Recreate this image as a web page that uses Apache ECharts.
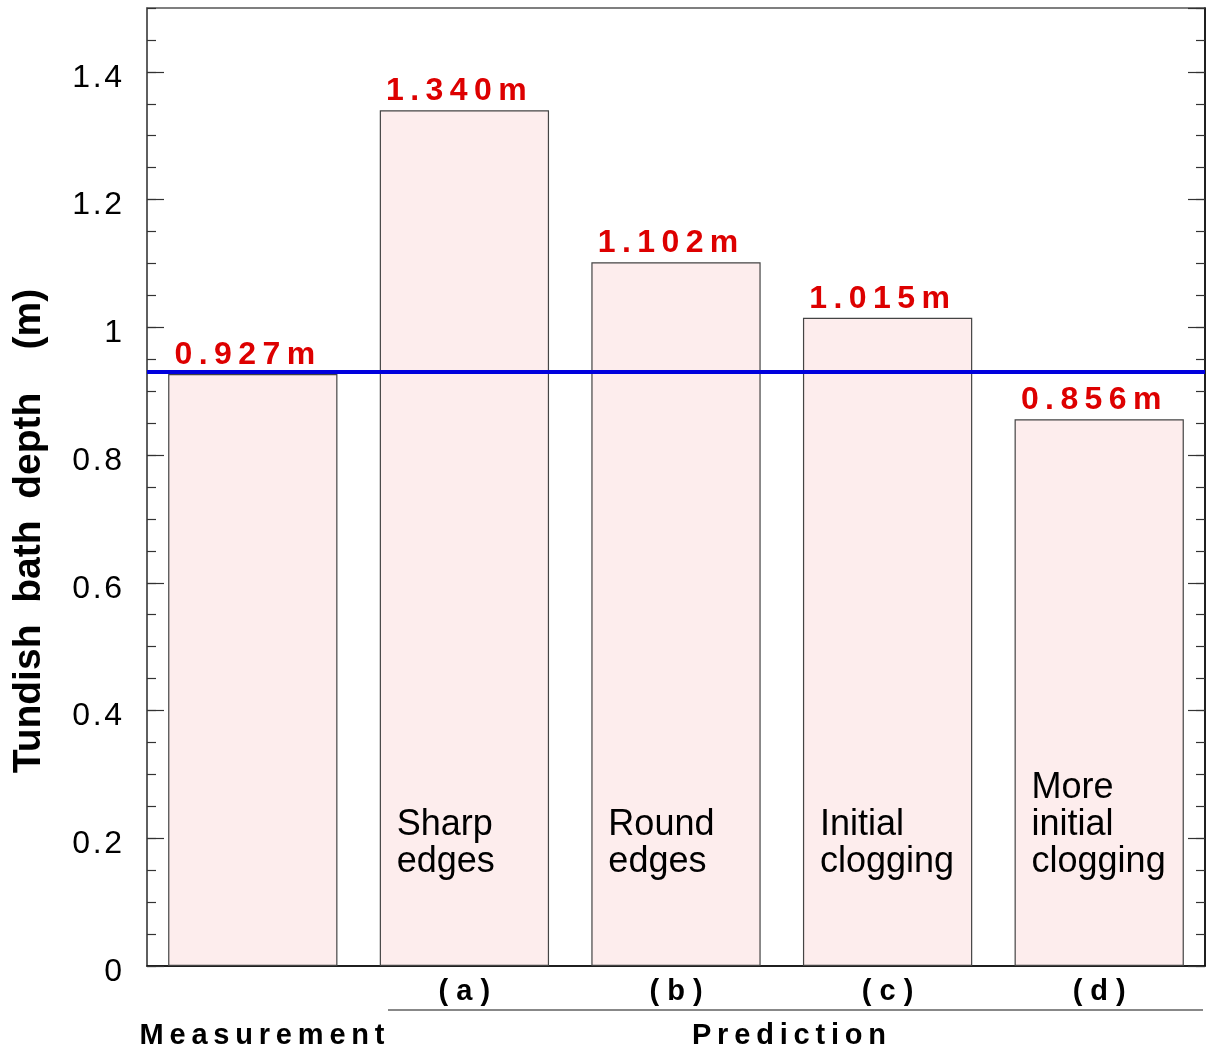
<!DOCTYPE html>
<html><head><meta charset="utf-8">
<script src="https://cdn.jsdelivr.net/npm/echarts@6/dist/echarts.min.js"></script>
<style>html,body{margin:0;padding:0;background:#fff}#c{width:1209px;height:1055px}</style>
</head><body><div id="c"></div>
<script>
// ---- data ----
const categories = ['Measurement', '(a)', '(b)', '(c)', '(d)'];
const depths = [0.927, 1.340, 1.102, 1.015, 0.856];
const innerLabels = ['', 'Sharp\nedges', 'Round\nedges', 'Initial\nclogging', 'More\ninitial\nclogging'];
const measuredLevel = 0.927;
const groupLabel = 'Prediction';
const yTitle = 'Tundish  bath  depth    (m)';

// ---- helpers ----
const FONT = '"Liberation Sans", Arial, Helvetica, sans-serif';
const THIN = '\u2009';
const HAIR = '\u200A';
const sp = (s, sep) => String(s).split('').join(sep === undefined ? THIN : sep);

const chart = echarts.init(document.getElementById('c'), null, {renderer: 'canvas'});

const yCommon = {
  type: 'value', min: 0, max: 1.5,
  splitLine: {show: false}, axisLabel: {show: false},
  axisLine: {show: false}
};

chart.setOption({
  animation: false,
  backgroundColor: '#fff',
  grid: {left: 147, right: 4, top: 8, bottom: 89, show: true, borderColor: '#555', borderWidth: 1.5, containLabel: false},
  xAxis: {
    type: 'category', data: categories,
    axisLine: {show: true, lineStyle: {color: '#000', width: 1.5}},
    axisTick: {show: false},
    axisLabel: {
      margin: 12,
      interval: 0,
      fontFamily: FONT, fontWeight: 'bold', fontSize: 29, color: '#000', lineHeight: 28,
      formatter: (v, i) => i === 0 ? '' : sp(v, ' ')
    }
  },
  yAxis: [
    Object.assign({}, yCommon, {
      position: 'left', interval: 0.2,
      axisLine: {show: true, lineStyle: {color: '#555', width: 1.5}},
      axisTick: {show: true, inside: true, length: 17, lineStyle: {color: '#333', width: 1.2}},
      axisLabel: {
        show: true, showMaxLabel: false, margin: 25,
        fontFamily: FONT, fontSize: 32, color: '#000',
        verticalAlign: 'top', lineHeight: 12,
        formatter: v => sp(String(Math.round(v * 10) / 10), HAIR)
      }
    }),
    Object.assign({}, yCommon, {
      position: 'left', interval: 0.05,
      axisTick: {show: true, inside: true, length: 9, lineStyle: {color: '#333', width: 1.2}}
    }),
    Object.assign({}, yCommon, {
      position: 'right', interval: 0.2,
      axisLine: {show: true, lineStyle: {color: '#000', width: 1.5}},
      axisTick: {show: true, inside: true, length: 17, lineStyle: {color: '#333', width: 1.2}}
    }),
    Object.assign({}, yCommon, {
      position: 'right', interval: 0.05,
      axisTick: {show: true, inside: true, length: 9, lineStyle: {color: '#333', width: 1.2}}
    })
  ],
  series: [
    {
      type: 'bar', data: depths, yAxisIndex: 0,
      barCategoryGap: '20%', barGap: '-100%',
      itemStyle: {color: '#fdeded', borderColor: '#444', borderWidth: 1.2},
      label: {
        show: true, position: 'top', distance: 3, offset: [-8, 0],
        fontFamily: FONT, fontWeight: 'bold', fontSize: 32, color: '#dd0000',
        formatter: p => sp(p.value.toFixed(3) + 'm')
      },
      markLine: {
        silent: true, symbol: 'none', label: {show: false},
        lineStyle: {color: '#0000dd', width: 4, type: 'solid'},
        data: [{yAxis: measuredLevel}]
      },
      z: 2
    },
    {
      type: 'bar', data: depths, yAxisIndex: 0,
      barCategoryGap: '20%', barGap: '-100%',
      itemStyle: {color: 'rgba(0,0,0,0)', borderWidth: 0},
      label: {
        show: true, position: 'insideBottomLeft', distance: 5,
        offset: [12, -80],
        align: 'left',
        fontFamily: FONT, fontSize: 36, lineHeight: 37, color: '#000',
        formatter: p => innerLabels[p.dataIndex]
      },
      z: 3
    }
  ],
  graphic: [
    {type: 'line', shape: {x1: 388, y1: 1010, x2: 1203, y2: 1010}, style: {stroke: '#888', lineWidth: 2}},
    {type: 'text', x: 262, y: 1036, style: {text: sp(categories[0]), font: 'bold 29px ' + FONT, fill: '#000', align: 'center', verticalAlign: 'middle'}},
    {type: 'text', x: 789, y: 1036, style: {text: sp(groupLabel), font: 'bold 29px ' + FONT, fill: '#000', align: 'center', verticalAlign: 'middle'}},
    {type: 'text', x: 29, y: 531, rotation: Math.PI / 2, style: {text: yTitle, font: 'bold 39px ' + FONT, fill: '#000', align: 'center', verticalAlign: 'middle'}}
  ]
});
</script>
</body></html>
